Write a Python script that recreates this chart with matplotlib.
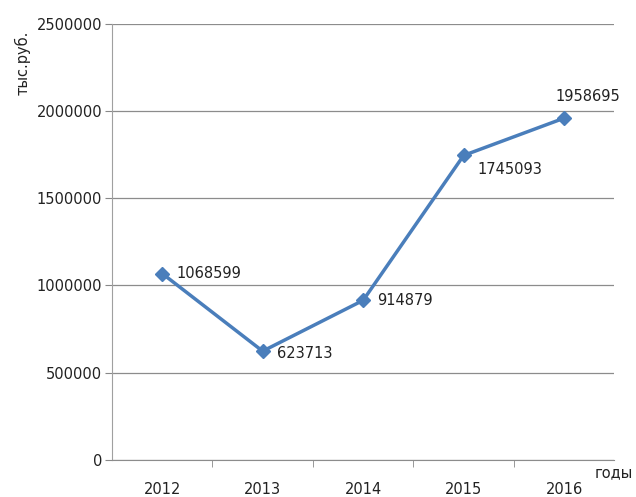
import matplotlib
matplotlib.use("Agg")
import matplotlib.pyplot as plt

years = ["2012", "2013", "2014", "2015", "2016"]
values = [1068599, 623713, 914879, 1745093, 1958695]
yticks = [0, 500000, 1000000, 1500000, 2000000, 2500000]

# label offsets in points (dx, dy, ha, va)
label_pos = [(10, 0, "left", "center"),
             (10, -2, "left", "center"),
             (10, 0, "left", "center"),
             (10, -10, "left", "center"),
             (-6, 10, "left", "bottom")]

plt.rcParams['font.family'] = ['DejaVu Sans']
fig = plt.figure(figsize=(6.36, 4.97), dpi=100)
ax = fig.add_axes([0.176, 0.0744, 0.79, 0.878])

x = list(range(len(years)))
ax.plot(x, values, color="#4a7ebb", linewidth=2.5, marker="D", markersize=7,
        zorder=3)

for xi, v, (dx, dy, ha, va) in zip(x, values, label_pos):
    ax.annotate(f"{v}", (xi, v), xytext=(dx, dy), textcoords="offset points",
                ha=ha, va=va, fontsize=10.5, color="#222222")

ax.set_xlim(-0.5, len(years) - 0.5)
ax.set_ylim(0, 2500000)
ax.set_yticks(yticks)
ax.set_yticklabels([str(t) for t in yticks], fontsize=10.5, color="#222222")
ax.set_xticks(x)
ax.set_xticklabels(years, fontsize=10.5, color="#222222")
ax.set_xticks([i + 0.5 for i in x[:-1]], minor=True)
ax.tick_params(axis="x", which="major", length=0, pad=16)
ax.tick_params(axis="x", which="minor", length=5, color="#888888", direction="out")
ax.tick_params(axis="y", length=5, color="#888888", pad=2)

ax.grid(axis="y", color="#8c8c8c", linewidth=0.9)
ax.set_axisbelow(True)
for s in ["top", "right"]:
    ax.spines[s].set_visible(False)
ax.spines["left"].set_color("#a0a0a0")
ax.spines["bottom"].set_color("#8c8c8c")

ax.text(-0.178, 0.91, "тыс.руб.", transform=ax.transAxes, rotation=90,
        fontsize=10.5, color="#222222", ha="center", va="center")
ax.text(0.998, -0.03, "годы", transform=ax.transAxes, fontsize=10.5,
        color="#222222", ha="center", va="center")

fig.savefig("out.png", dpi=100, facecolor="white")
